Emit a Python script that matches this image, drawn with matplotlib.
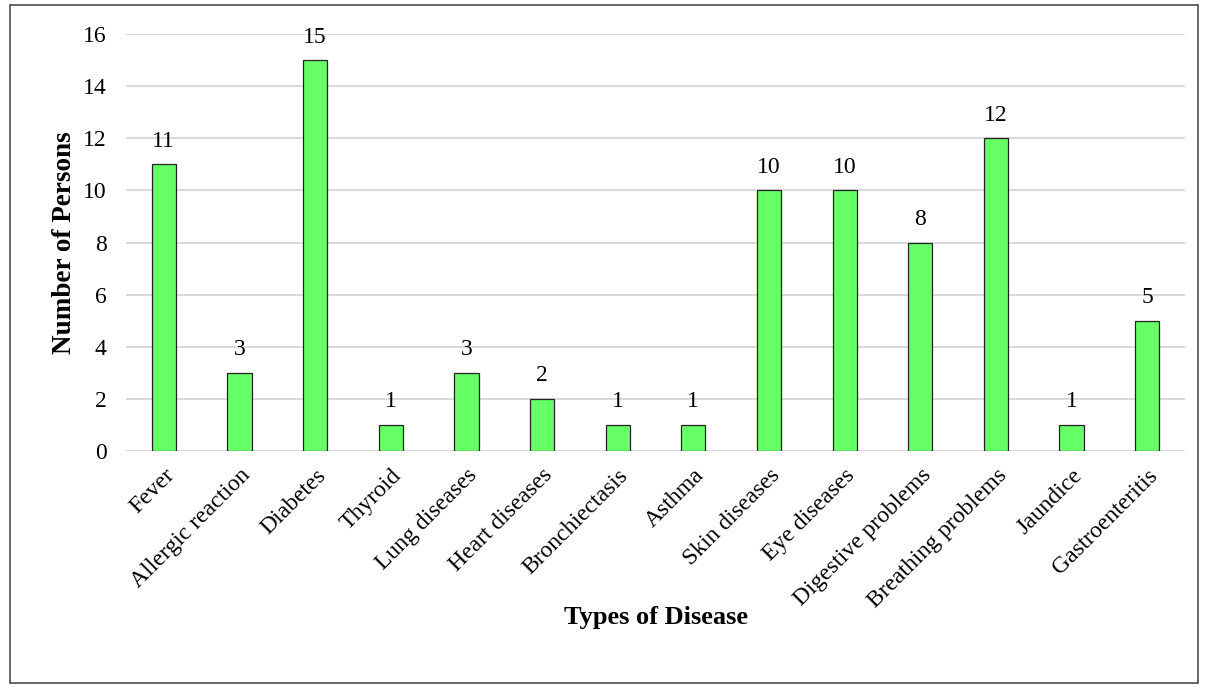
import matplotlib.pyplot as plt
from matplotlib.patches import Rectangle

plt.rcParams['font.family'] = ['Liberation Serif', 'DejaVu Serif']

diseases = ["Fever", "Allergic reaction", "Diabetes", "Thyroid", "Lung diseases",
            "Heart diseases", "Bronchiectasis", "Asthma", "Skin diseases",
            "Eye diseases", "Digestive problems", "Breathing problems",
            "Jaundice", "Gastroenteritis"]
persons = [11, 3, 15, 1, 3, 2, 1, 1, 10, 10, 8, 12, 1, 5]
yticks = [0, 2, 4, 6, 8, 10, 12, 14, 16]

fig = plt.figure(figsize=(12.08, 6.86), dpi=100)
ax = fig.add_axes([0.1043, 0.3426, 0.8767, 0.6078])

x = range(len(diseases))
bars = ax.bar(x, persons, width=0.32, color='#66ff66', edgecolor='#222222',
              linewidth=0.9, zorder=3)
for xi, v in zip(x, persons):
    ax.annotate(str(v), (xi, v), xytext=(0, 9), textcoords='offset points',
                ha='center', va='bottom', fontsize=17)

ax.set_xlim(-0.5, len(diseases) - 0.5)
ax.set_ylim(0, 16)
ax.set_yticks(yticks)
ax.yaxis.grid(True, color='#d9d9d9', linewidth=1.4, zorder=0)
ax.set_axisbelow(True)
for s in ax.spines.values():
    s.set_visible(False)
ax.tick_params(axis='both', length=0, labelsize=17)
ax.tick_params(axis='y', pad=14)
ax.set_xticks(list(x))
ax.set_xticklabels(diseases, rotation=45, ha='right', va='top',
                   rotation_mode='anchor')
ax.tick_params(axis='x', pad=10)

ax.set_ylabel("Number of Persons", fontsize=19.5, fontweight='bold')
ax.yaxis.set_label_coords(-0.046, 0.5)
ax.set_xlabel("Types of Disease", fontsize=19, fontweight='bold')
ax.xaxis.set_label_coords(0.5, -0.372)

# frame around the whole chart
fig.patches.append(Rectangle((0.008, 0.004), 0.984, 0.989, transform=fig.transFigure,
                             fill=False, edgecolor='#4d4d4d', linewidth=1.2))

fig.savefig("out.png", dpi=100)
